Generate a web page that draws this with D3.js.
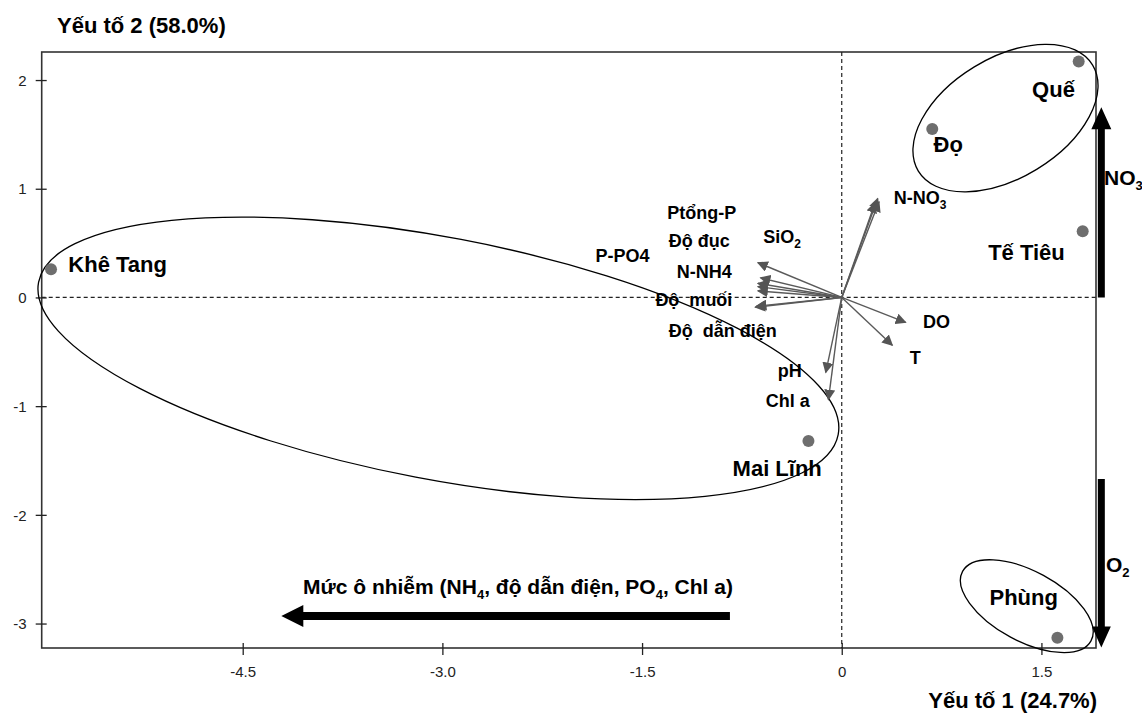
<!DOCTYPE html>
<html><head><meta charset="utf-8">
<script src="https://cdn.jsdelivr.net/npm/d3@7"></script>
<style>
body{margin:0;background:#fff}
svg text{font-family:"Liberation Sans",Arial,Helvetica,sans-serif;white-space:pre}
</style>
</head><body>
<svg id="chart" width="1142" height="715"></svg>
<script>
// ---------- data ----------
const xTicks = [-4.5, -3.0, -1.5, 0, 1.5];
const xTickLabels = ["-4.5", "-3.0", "-1.5", "0", "1.5"];
const yTicks = [2, 1, 0, -1, -2, -3];
const yTickLabels = ["2", "1", "0", "-1", "-2", "-3"];

const siteNames  = ["Khê Tang", "Mai Lĩnh", "Quế", "Đọ", "Tế Tiêu", "Phùng"];
const siteX      = [-5.94, -0.25, 1.78, 0.68, 1.81, 1.62];
const siteY      = [0.26, -1.32, 2.17, 1.55, 0.61, -3.13];
const siteLabelX = [-5.81, -0.82, 1.43, 0.69, 1.10, 1.11];
const siteLabelY = [0.23, -1.64, 1.84, 1.34, 0.34, -2.83];

const vecX = [0.27, 0.25, 0.28, -0.63, -0.61, -0.63, -0.63, -0.63, -0.65, -0.64, 0.48, 0.38, -0.12, -0.10];
const vecY = [0.91, 0.87, 0.88, 0.32, 0.18, 0.13, 0.10, 0.06, -0.09, -0.08, -0.23, -0.44, -0.69, -0.94];

const varLabelMain = ["Ptổng-P", "Độ đục", "P-PO4", "SiO", "N-NH4", "Độ  muối", "Độ  dẫn điện", "pH", "Chl a", "N-NO", "DO", "T"];
const varLabelSub  = ["", "", "", "2", "", "", "", "", "", "3", "", ""];
const varLabelX    = [-1.31, -1.30, -1.85, -0.59, -1.24, -1.40, -1.30, -0.48, -0.57, 0.39, 0.61, 0.51];
const varLabelY    = [0.72, 0.46, 0.33, 0.50, 0.18, -0.08, -0.36, -0.73, -1.01, 0.86, -0.28, -0.61];

// groups (ellipses): centre in data units, semi-axes in px, rotation in degrees
const groupCX  = [-3.03, 1.23, 1.39];
const groupCY  = [-0.56, 1.65, -2.84];
const groupRX  = [407, 102, 73];
const groupRY  = [121, 60, 35];
const groupRot = [10.8, -31.3, 28.4];

// interpretive arrows
const bigArrowFromX = [-0.84, 1.95, 1.95];
const bigArrowFromY = [-2.93, 0, -1.67];
const bigArrowToX   = [-4.21, 1.95, 1.95];
const bigArrowToY   = [-2.93, 1.75, -3.22];
const bigArrowText  = [["Mức ô nhiễm (NH", "4", ", độ dẫn điện, PO", "4", ", Chl a)"], ["NO", "3"], ["O", "2"]];

// ---------- layout ----------
const svg = d3.select("#chart");
const x = d3.scaleLinear().domain([-6.01, 1.91]).range([41.7, 1096]);
const y = d3.scaleLinear().domain([-3.225, 2.258]).range([648, 52]);
const FONT = '"Liberation Sans",Arial,Helvetica,sans-serif';

// frame
svg.append("rect").attr("x", x(-6.01)).attr("y", y(2.258))
  .attr("width", x(1.91) - x(-6.01)).attr("height", y(-3.225) - y(2.258))
  .attr("fill", "none").attr("stroke", "#333").attr("stroke-width", 1.6);

// dashed zero lines
svg.append("line").attr("x1", x(-6.01)).attr("x2", x(1.91)).attr("y1", y(0)).attr("y2", y(0))
  .attr("stroke", "#222").attr("stroke-width", 1.2).attr("stroke-dasharray", "4,3");
svg.append("line").attr("x1", x(0)).attr("x2", x(0)).attr("y1", y(2.258)).attr("y2", y(-3.225))
  .attr("stroke", "#222").attr("stroke-width", 1.2).attr("stroke-dasharray", "4,3");

// axes
const xAxis = d3.axisBottom(x).tickValues(xTicks).tickFormat((d, i) => xTickLabels[i]).tickSize(7).tickSizeOuter(0);
const gx = svg.append("g").attr("transform", `translate(0,${y(-3.225)})`).call(xAxis);
gx.select(".domain").remove();
gx.selectAll(".tick line").attr("y1", -5).attr("stroke", "#222").attr("stroke-width", 1.3);
gx.selectAll(".tick text").attr("y", 29).attr("dy", 0).attr("font-size", 15).attr("fill", "#222").attr("font-family", FONT);

const yAxis = d3.axisLeft(y).tickValues(yTicks).tickFormat((d, i) => yTickLabels[i]).tickSize(6).tickSizeOuter(0);
const gy = svg.append("g").attr("transform", `translate(${x(-6.01)},0)`).call(yAxis);
gy.select(".domain").remove();
gy.selectAll(".tick line").attr("x1", 5).attr("stroke", "#222").attr("stroke-width", 1.3);
gy.selectAll(".tick text").attr("x", -15).attr("dy", "0.35em").attr("font-size", 15).attr("fill", "#222").attr("font-family", FONT);

// axis titles
svg.append("text").attr("x", 57).attr("y", 33).attr("font-size", 22).attr("font-weight", "bold").text("Yếu tố 2 (58.0%)");
svg.append("text").attr("x", 1097).attr("y", 708).attr("text-anchor", "end").attr("font-size", 22).attr("font-weight", "bold").text("Yếu tố 1 (24.7%)");

// ellipses
groupCX.forEach((cx, i) => {
  svg.append("ellipse")
    .attr("transform", `translate(${x(cx)},${y(groupCY[i])}) rotate(${groupRot[i]})`)
    .attr("rx", groupRX[i]).attr("ry", groupRY[i])
    .attr("fill", "none").attr("stroke", "#000").attr("stroke-width", 1.3);
});

// loading vectors
svg.append("defs").append("marker").attr("id", "ah")
  .attr("viewBox", "0 0 10 10").attr("refX", 9).attr("refY", 5)
  .attr("markerWidth", 11).attr("markerHeight", 11).attr("markerUnits", "userSpaceOnUse")
  .attr("orient", "auto")
  .append("path").attr("d", "M0,0 L10,5 L0,10 Z").attr("fill", "#555");

vecX.forEach((vx, i) => {
  svg.append("line").attr("x1", x(0)).attr("y1", y(0)).attr("x2", x(vx)).attr("y2", y(vecY[i]))
    .attr("stroke", "#5a5a5a").attr("stroke-width", 1.4).attr("marker-end", "url(#ah)");
});

// variable labels
varLabelMain.forEach((t, i) => {
  const tx = svg.append("text").attr("x", x(varLabelX[i])).attr("y", y(varLabelY[i]))
    .attr("font-size", 18).attr("font-weight", "bold").attr("fill", "#000");
  tx.append("tspan").text(t);
  if (varLabelSub[i]) tx.append("tspan").attr("font-size", 12).attr("dy", 5).text(varLabelSub[i]);
});

// sites
siteX.forEach((sx, i) => {
  svg.append("circle").attr("cx", x(sx)).attr("cy", y(siteY[i])).attr("r", 6).attr("fill", "#6e6e6e");
  svg.append("text").attr("x", x(siteLabelX[i])).attr("y", y(siteLabelY[i]))
    .attr("font-size", 22).attr("font-weight", "bold").attr("fill", "#000").text(siteNames[i]);
});

// big arrows
function bigArrow(x1, y1, x2, y2, shaftW, headW, headL) {
  const dx = x2 - x1, dy = y2 - y1, L = Math.hypot(dx, dy);
  const ux = dx / L, uy = dy / L, nx = -uy, ny = ux;
  const bx = x2 - ux * headL, by = y2 - uy * headL;
  const pts = [
    [x1 + nx * shaftW / 2, y1 + ny * shaftW / 2],
    [bx + nx * shaftW / 2, by + ny * shaftW / 2],
    [bx + nx * headW / 2, by + ny * headW / 2],
    [x2, y2],
    [bx - nx * headW / 2, by - ny * headW / 2],
    [bx - nx * shaftW / 2, by - ny * shaftW / 2],
    [x1 - nx * shaftW / 2, y1 - ny * shaftW / 2]
  ];
  svg.append("path").attr("d", d3.line()(pts) + "Z").attr("fill", "#000");
}
bigArrow(x(bigArrowFromX[0]), y(bigArrowFromY[0]), x(bigArrowToX[0]), y(bigArrowToY[0]), 8, 22, 22);
bigArrow(x(bigArrowFromX[1]), y(bigArrowFromY[1]), x(bigArrowToX[1]), y(bigArrowToY[1]), 7, 20, 22);
bigArrow(x(bigArrowFromX[2]), y(bigArrowFromY[2]), x(bigArrowToX[2]), y(bigArrowToY[2]), 7, 19, 21);

function richText(px, py, parts, size) {
  const t = svg.append("text").attr("x", px).attr("y", py).attr("font-size", size).attr("font-weight", "bold");
  parts.forEach((p, k) => {
    if (k % 2 === 1) t.append("tspan").attr("font-size", size * 0.62).attr("dy", 5).text(p);
    else t.append("tspan").attr("dy", k === 0 ? 0 : -5).text(p);
  });
}
richText(303, 594, bigArrowText[0], 21);
richText(1104, 185, bigArrowText[1], 21);
richText(1106, 572, bigArrowText[2], 21);
</script>
</body></html>
